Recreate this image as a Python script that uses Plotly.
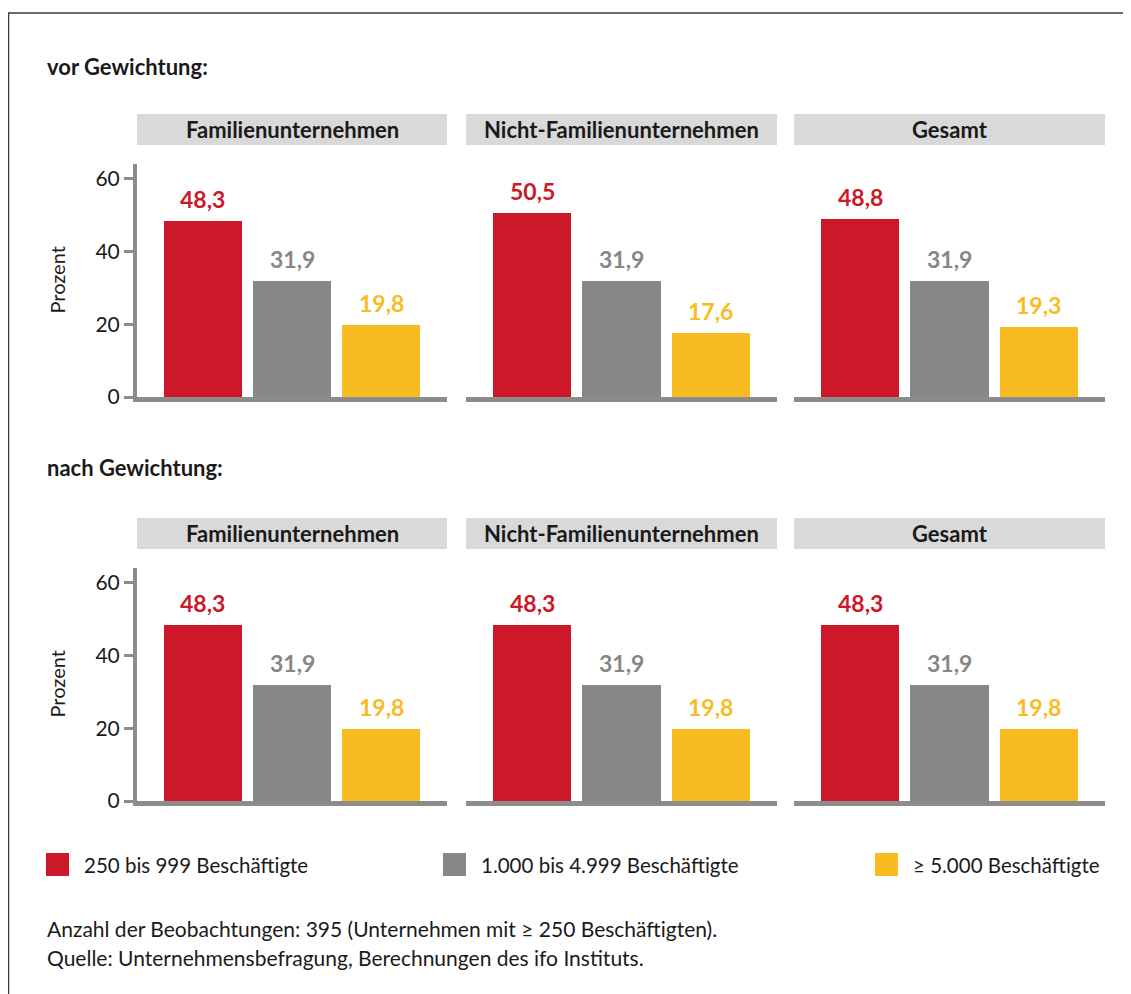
import plotly.graph_objects as go

# page body has an 8px margin; the photo is vertically squeezed by ~994/1005
OFF = 8
FY = 1005 / 994
W, H = 1131 - OFF, 1005 - OFF

# ---- data ----
groups = ["Familienunternehmen", "Nicht-Familienunternehmen", "Gesamt"]
series = ["250 bis 999 Beschäftigte", "1.000 bis 4.999 Beschäftigte", "≥ 5.000 Beschäftigte"]
sections = ["vor Gewichtung:", "nach Gewichtung:"]

vor_250 = [48.3, 50.5, 48.8]
vor_1000 = [31.9, 31.9, 31.9]
vor_5000 = [19.8, 17.6, 19.3]

nach_250 = [48.3, 48.3, 48.3]
nach_1000 = [31.9, 31.9, 31.9]
nach_5000 = [19.8, 19.8, 19.8]

y_ticks = [0, 20, 40, 60]
y_title = "Prozent"
notes = [
    "Anzahl der Beobachtungen: 395 (Unternehmen mit ≥ 250 Beschäftigten).",
    "Quelle: Unternehmensbefragung, Berechnungen des ifo Instituts.",
]

# ---- styles ----
FONT = "Lato"
colors = ["#cc1829", "#878787", "#f9bb22"]
axis_gray = "#8c8c8c"
header_gray = "#d9d9d9"
txt = "#1a1a1a"


def X(px):
    return (px - OFF) / W


def Y(py):
    return 1 - (py * FY - OFF) / H


panel_x = [(137, 447), (466, 777), (794, 1105)]
row_y = [(164, 397), (568, 801)]
header_y = [(114, 145), (518, 549)]
section_y = [66, 467]

data_rows = [
    [vor_250, vor_1000, vor_5000],
    [nach_250, nach_1000, nach_5000],
]

fig = go.Figure()
layout = dict()
annotations = []
shapes = []

k = 0
for r in range(2):
    for p in range(3):
        k += 1
        xa = "x" if k == 1 else f"x{k}"
        ya = "y" if k == 1 else f"y{k}"
        for s in range(3):
            fig.add_trace(go.Bar(
                x=[series[s]], y=[data_rows[r][s][p]],
                width=0.876, marker=dict(color=colors[s], line=dict(width=0)),
                xaxis=xa, yaxis=ya, showlegend=False, hoverinfo="skip",
            ))
            annotations.append(dict(
                x=series[s], y=data_rows[r][s][p], xref=xa, yref=ya,
                text=f"{data_rows[r][s][p]:.1f}".replace(".", ","),
                showarrow=False, yanchor="bottom", yshift=6,
                font=dict(family=FONT, size=23, color=colors[s], weight=700),
            ))
        xkey = "xaxis" if k == 1 else f"xaxis{k}"
        ykey = "yaxis" if k == 1 else f"yaxis{k}"
        layout[xkey] = dict(
            domain=[X(panel_x[p][0]), X(panel_x[p][1])], anchor=ya,
            type="category", categoryorder="array", categoryarray=series,
            range=[-0.74, 2.74], showline=True, linewidth=5, linecolor=axis_gray,
            showticklabels=False, ticks="", showgrid=False, zeroline=False, fixedrange=True,
        )
        layout[ykey] = dict(
            domain=[Y(row_y[r][1]), Y(row_y[r][0])], anchor=xa,
            range=[0, 64], tickvals=y_ticks, ticktext=[str(t) for t in y_ticks],
            showline=(p == 0), linewidth=4, linecolor=axis_gray,
            ticks="outside" if p == 0 else "", ticklen=9, tickwidth=3, tickcolor=axis_gray,
            showticklabels=(p == 0), tickfont=dict(family=FONT, size=21, color=txt),
            showgrid=False, zeroline=False, fixedrange=True,
        )
        # header box
        shapes.append(dict(type="rect", xref="paper", yref="paper",
                           x0=X(panel_x[p][0]), x1=X(panel_x[p][1]),
                           y0=Y(header_y[r][1]), y1=Y(header_y[r][0]),
                           fillcolor=header_gray, line=dict(width=0), layer="below"))
        annotations.append(dict(
            x=X((panel_x[p][0] + panel_x[p][1]) / 2), y=Y((header_y[r][0] + header_y[r][1]) / 2),
            xref="paper", yref="paper", text=groups[p], showarrow=False,
            xanchor="center", yanchor="middle",
            font=dict(family=FONT, size=22, color=txt, weight=700),
        ))
    # section title
    annotations.append(dict(
        x=X(45), y=Y(section_y[r]), xref="paper", yref="paper", text=sections[r],
        showarrow=False, xanchor="left", yanchor="middle",
        font=dict(family=FONT, size=22, color=txt, weight=700),
    ))
    # y title
    annotations.append(dict(
        x=X(57), y=Y((row_y[r][0] + row_y[r][1]) / 2), xref="paper", yref="paper",
        text=y_title, textangle=-90, showarrow=False, xanchor="center", yanchor="middle",
        font=dict(family=FONT, size=20, color=txt),
    ))

# legend (manual)
leg_x = [46, 443, 875]
for s in range(3):
    shapes.append(dict(type="rect", xref="paper", yref="paper",
                       x0=X(leg_x[s]), x1=X(leg_x[s] + 23), y0=Y(876), y1=Y(853),
                       fillcolor=colors[s], line=dict(width=0)))
    annotations.append(dict(
        x=X(leg_x[s] + 36), y=Y(864.5), xref="paper", yref="paper", text=series[s],
        showarrow=False, xanchor="left", yanchor="middle",
        font=dict(family=FONT, size=20.5, color=txt),
    ))

# notes
for i, n in enumerate(notes):
    annotations.append(dict(
        x=X(45), y=Y(928 + 29 * i), xref="paper", yref="paper", text=n,
        showarrow=False, xanchor="left", yanchor="middle",
        font=dict(family=FONT, size=21, color=txt),
    ))

# frame
shapes.append(dict(type="line", xref="paper", yref="paper", x0=X(8), x1=1.0, y0=Y(13), y1=Y(13),
                   line=dict(color="#3a3a3a", width=1.5)))
shapes.append(dict(type="line", xref="paper", yref="paper", x0=X(8.5), x1=X(8.5), y0=Y(13), y1=0.0,
                   line=dict(color="#3a3a3a", width=1.5)))

fig.update_layout(
    width=W, height=H, autosize=False,
    margin=dict(l=0, r=0, t=0, b=0),
    paper_bgcolor="white", plot_bgcolor="white",
    bargap=0, barmode="overlay",
    annotations=annotations, shapes=shapes,
    font=dict(family=FONT, color=txt),
    **layout,
)

fig.write_html("out.html")
